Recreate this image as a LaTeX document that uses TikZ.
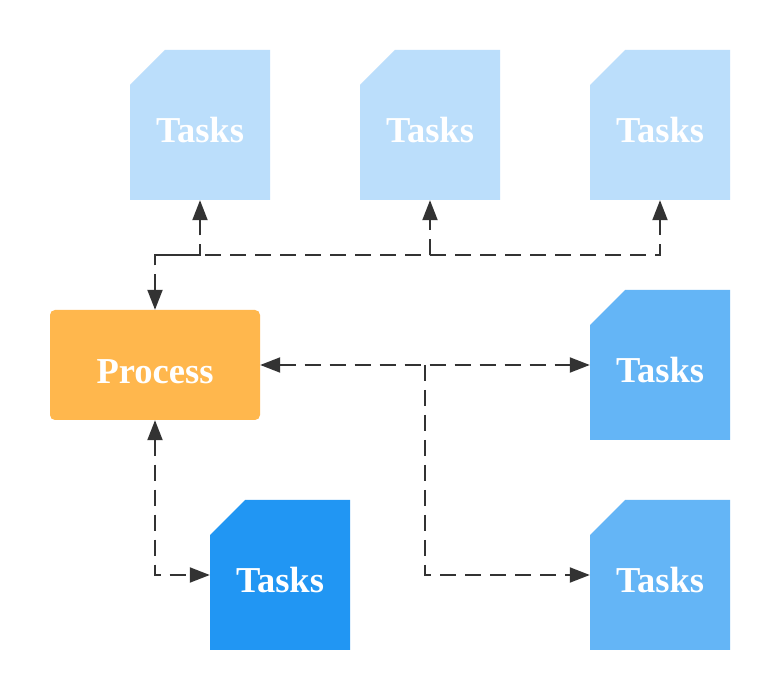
\documentclass[tikz,border=0pt]{standalone}
\usepackage{fontspec}
\setmainfont{Liberation Serif}
\usetikzlibrary{arrows.meta}
\definecolor{taskA}{HTML}{BBDEFB}
\definecolor{taskB}{HTML}{64B5F6}
\definecolor{taskC}{HTML}{2196F3}
\definecolor{procC}{HTML}{FFB74D}
\definecolor{lineC}{HTML}{333333}
\begin{document}
\begin{tikzpicture}[x=1pt,y=-1pt,
  taskbox/.style={rectangle, minimum width=140pt, minimum height=150pt,
    inner sep=0pt, draw=none, text height=35pt, text depth=0pt,
    text=white, font=\fontsize{36.5}{42}\selectfont\bfseries,
    path picture={\fill[#1] (path picture bounding box.south west)
      -- ([yshift=-35pt]path picture bounding box.north west)
      -- ([xshift=35pt]path picture bounding box.north west)
      -- (path picture bounding box.north east)
      -- (path picture bounding box.south east) -- cycle;}},
  procbox/.style={rectangle, rounded corners=5pt, fill=procC,
    minimum width=210pt, minimum height=110pt, inner sep=0pt,
    text height=37pt, text depth=0pt,
    text=white, font=\fontsize{36.5}{42}\selectfont\bfseries},
  link/.style={draw=lineC, line width=2pt, dash pattern=on 16pt off 9pt},
  tip/.style={-{Triangle[length=20pt,width=15pt]}},
  tips/.style={{Triangle[length=20pt,width=15pt]}-{Triangle[length=20pt,width=15pt]}}
]
\useasboundingbox (0,0) rectangle (780,700);
\fill[white] (0,0) rectangle (780,700);

\node[taskbox=taskA] (t1) at (200,125) {Tasks};
\node[taskbox=taskA] (t2) at (430,125) {Tasks};
\node[taskbox=taskA] (t3) at (660,125) {Tasks};
\node[procbox] (proc) at (155,365) {Process};
\node[taskbox=taskB] (tr) at (660,365) {Tasks};
\node[taskbox=taskC] (tbl) at (280,575) {Tasks};
\node[taskbox=taskB] (tbr) at (660,575) {Tasks};

\coordinate (bus) at (155,255);
\coordinate (mid) at (425,365);

\draw[link, tips] (proc.north) -- (bus) -| (t1.south);
\draw[link, tip] (bus) -| (t2.south);
\draw[link, tip] (bus) -| (t3.south);
\draw[link, tips] (proc.east) -- (tr.west);
\draw[link, tip] (mid) |- (tbr.west);
\draw[link, tips] (proc.south) |- (tbl.west);
\end{tikzpicture}
\end{document}
